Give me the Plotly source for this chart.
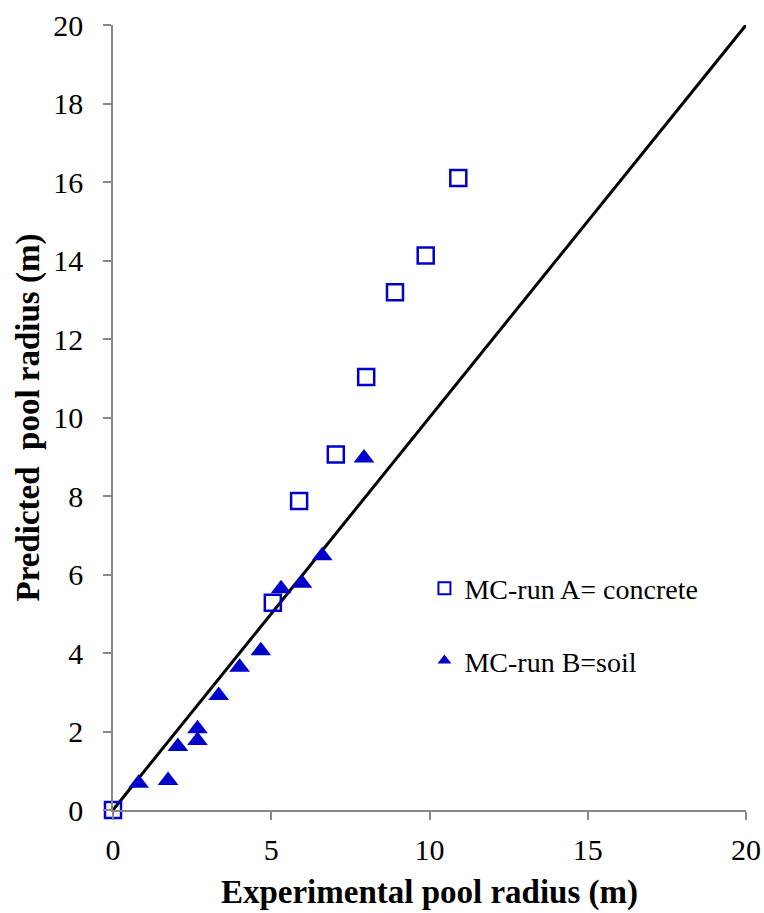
import plotly.graph_objects as go

# Data
conc_x = [0, 5.05, 5.88, 7.04, 8.0, 8.91, 9.88, 10.91]
conc_y = [0, 5.28, 7.87, 9.06, 11.03, 13.19, 14.13, 16.1]
soil_x = [0.81, 1.74, 2.05, 2.67, 2.67, 3.34, 4.0, 4.67, 5.31, 5.97, 6.61, 7.93]
soil_y = [0.68, 0.75, 1.62, 1.77, 2.07, 2.92, 3.64, 4.06, 5.64, 5.78, 6.48, 8.97]
line_x = [0, 20]
line_y = [0, 20]
ticks_x = [0, 5, 10, 15, 20]
ticks_y = [0, 2, 4, 6, 8, 10, 12, 14, 16, 18, 20]

BLUE = "#0000CC"
FONT = "Liberation Serif"

fig = go.Figure()
fig.add_trace(go.Scatter(x=line_x, y=line_y, mode="lines",
                         line=dict(color="black", width=3), showlegend=False,
                         cliponaxis=False))
fig.add_trace(go.Scatter(x=conc_x, y=conc_y, mode="markers", name="MC-run A= concrete",
                         legendgroup="a",
                         marker=dict(symbol="square-open", size=16, color=BLUE,
                                     line=dict(color=BLUE, width=2.5)),
                         cliponaxis=False))
fig.add_trace(go.Scatter(x=soil_x, y=soil_y, mode="markers", name="MC-run B=soil",
                         legendgroup="b",
                         marker=dict(symbol="triangle-up", size=18, color=BLUE),
                         cliponaxis=False))

axis_common = dict(showgrid=False, zeroline=False, showline=True, linecolor="#888888",
                   linewidth=1.5, ticks="outside", ticklen=8, tickcolor="#888888",
                   tickwidth=1.5, automargin=False,
                   tickfont=dict(family=FONT, size=30, color="black"))

fig.update_layout(
    width=764, height=913,
    margin=dict(l=113, r=18, t=25, b=103),
    paper_bgcolor="white", plot_bgcolor="white",
    font=dict(family=FONT, color="black"),
    xaxis=dict(range=[0, 20], tickvals=ticks_x, ticklabelstandoff=4,
               title=dict(text="<b>Experimental pool radius (m)</b>",
                          font=dict(family=FONT, size=33, color="black"), standoff=15),
               **axis_common),
    yaxis=dict(range=[0, 20], tickvals=ticks_y, ticklabelstandoff=14,
               title=dict(text="<b>Predicted\u00a0 pool radius (m)</b>",
                          font=dict(family=FONT, size=33, color="black"), standoff=4),
               **axis_common),
    legend=dict(x=0.492, y=0.314, xanchor="left", yanchor="top",
                font=dict(family=FONT, size=28, color="black"),
                bgcolor="rgba(0,0,0,0)", tracegroupgap=33, itemwidth=30,
                itemsizing="constant"),
)

fig.write_html("out.html")
